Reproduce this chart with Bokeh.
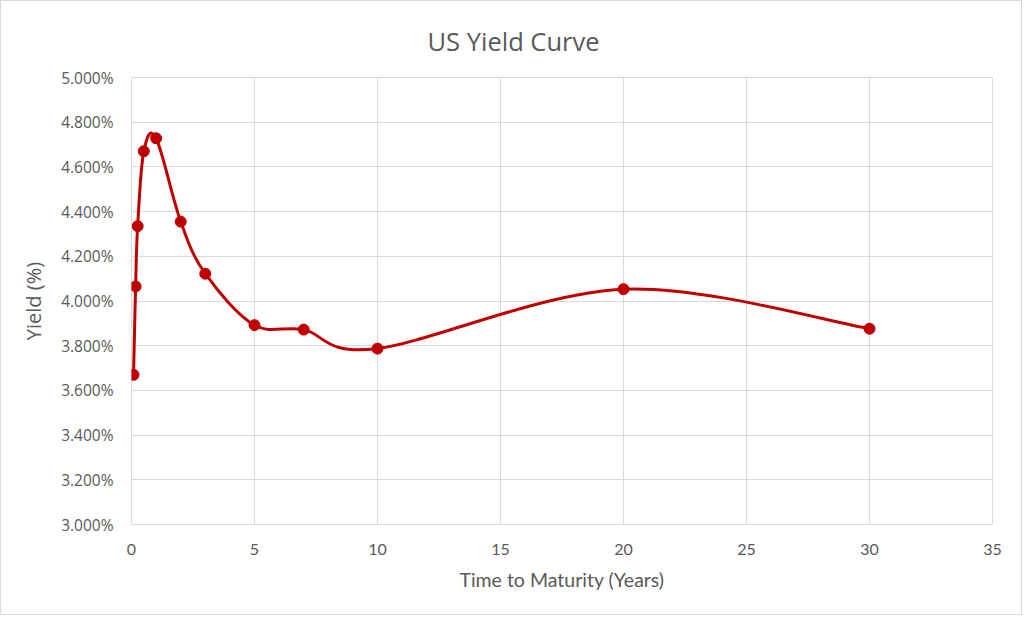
from bokeh.plotting import figure
from bokeh.models import Range1d, FixedTicker, CustomJSTickFormatter, ColumnDataSource
from bokeh.embed import file_html
from bokeh.resources import INLINE

# Data
maturity = [1/12, 2/12, 0.25, 0.5, 1, 2, 3, 5, 7, 10, 20, 30]
yield_pct = [3.670, 4.065, 4.335, 4.670, 4.728, 4.355, 4.122, 3.892, 3.872, 3.787, 4.053, 3.876]
x_ticks = [0, 5, 10, 15, 20, 25, 30, 35]
y_ticks = [3.0, 3.2, 3.4, 3.6, 3.8, 4.0, 4.2, 4.4, 4.6, 4.8, 5.0]

TEXT = "#595959"
GRID = "#d9d9d9"
RED = "#C00000"

p = figure(width=1022, height=615, output_backend="svg", toolbar_location=None,
           x_range=Range1d(0, 35), y_range=Range1d(3.0, 5.0),
           min_border_left=130, min_border_right=31, min_border_top=76, min_border_bottom=92,
           title="US Yield Curve")
p.styles = {"border": "1px solid #d9d9d9"}
p.background_fill_color = "white"
p.border_fill_color = "white"
p.outline_line_color = GRID

p.title.align = "left"
p.title.text_font = "Open Sans"
p.title.text_font_style = "normal"
p.title.text_font_size = "25.5px"
p.title.text_color = TEXT
p.title.offset = 296
p.title.standoff = 39

p.xaxis.ticker = FixedTicker(ticks=x_ticks)
p.yaxis.ticker = FixedTicker(ticks=y_ticks)
p.yaxis.formatter = CustomJSTickFormatter(code="return tick.toFixed(3) + '%';")
p.xgrid.ticker = FixedTicker(ticks=x_ticks)
p.ygrid.ticker = FixedTicker(ticks=y_ticks)
p.grid.grid_line_color = GRID
p.grid.grid_line_width = 1

for ax in (p.xaxis, p.yaxis):
    ax.axis_line_color = None
    ax.major_tick_line_color = None
    ax.minor_tick_line_color = None
    ax.major_label_text_color = TEXT
    ax.axis_label_text_color = TEXT
    ax.axis_label_text_font_style = "normal"

p.yaxis.major_label_text_font = "Open Sans"
p.yaxis.major_label_text_font_size = "15.5px"
p.yaxis.major_label_standoff = 12
p.yaxis.axis_label = "Yield (%)"
p.yaxis.axis_label_text_font = "Open Sans"
p.yaxis.axis_label_text_font_size = "20px"
p.yaxis.axis_label_standoff = 11

p.xaxis.major_label_text_font = "Lato"
p.xaxis.major_label_text_font_size = "16px"
p.xaxis.major_label_standoff = 13
p.xaxis.axis_label = "Time to Maturity (Years)"
p.xaxis.axis_label_text_font = "Lato"
p.xaxis.axis_label_text_font_size = "19.5px"
p.xaxis.axis_label_standoff = 10

# Smoothed line (Catmull-Rom style Bezier, as in spreadsheet smoothing)
n = len(maturity)
x0, y0, x1, y1, cx0, cy0, cx1, cy1 = [], [], [], [], [], [], [], []
for i in range(n - 1):
    im1 = max(i - 1, 0)
    ip2 = min(i + 2, n - 1)
    xa, ya = maturity[i], yield_pct[i]
    xb, yb = maturity[i + 1], yield_pct[i + 1]
    x0.append(xa); y0.append(ya); x1.append(xb); y1.append(yb)
    cx0.append(xa + (xb - maturity[im1]) / 6)
    cy0.append(ya + (yb - yield_pct[im1]) / 6)
    cx1.append(xb - (maturity[ip2] - xa) / 6)
    cy1.append(yb - (yield_pct[ip2] - ya) / 6)

bez = ColumnDataSource(dict(x0=x0, y0=y0, x1=x1, y1=y1, cx0=cx0, cy0=cy0, cx1=cx1, cy1=cy1))
p.bezier(x0="x0", y0="y0", x1="x1", y1="y1", cx0="cx0", cy0="cy0", cx1="cx1", cy1="cy1",
         source=bez, line_color=RED, line_width=3)
p.scatter(maturity, yield_pct, size=11, fill_color=RED, line_color=RED)

open("out.html", "w").write(file_html(p, INLINE))
